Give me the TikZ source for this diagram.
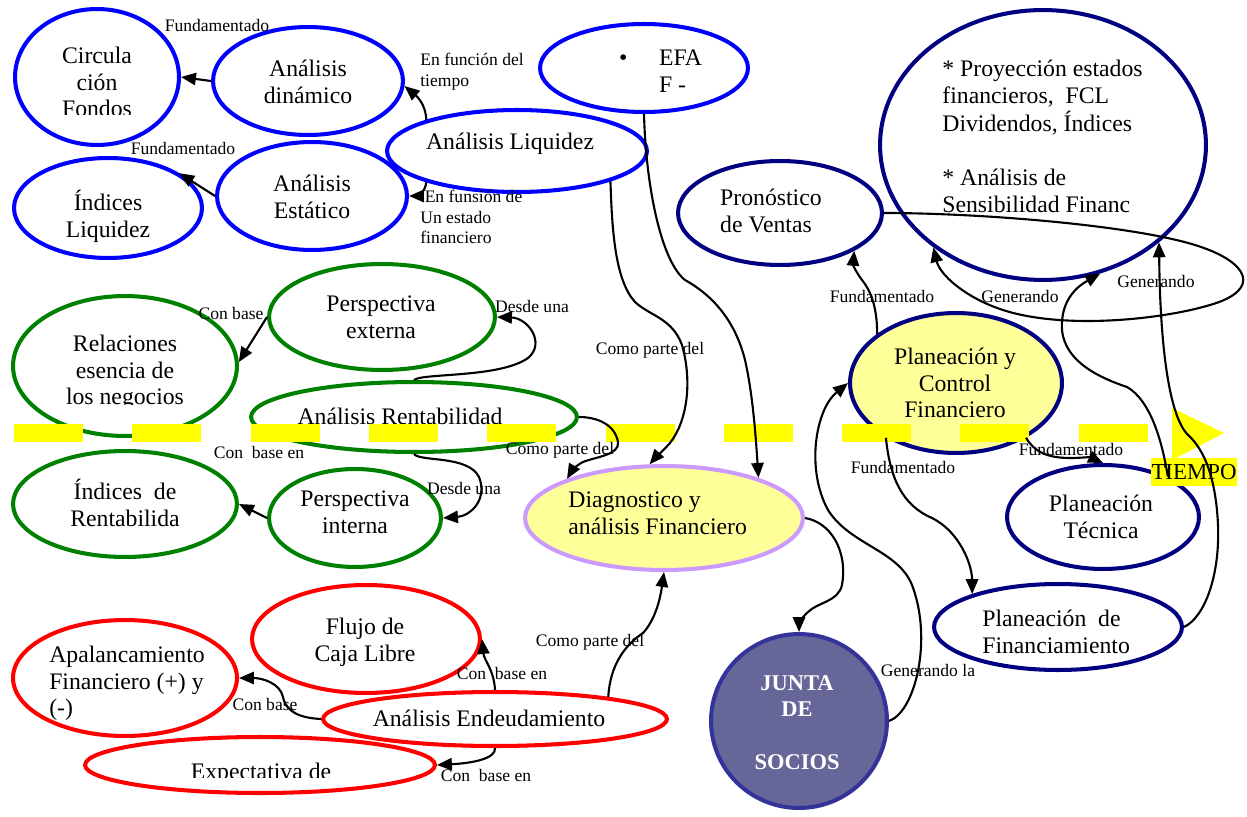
\documentclass[tikz,border=0pt]{standalone}
\usepackage{fontspec}
\setmainfont{Liberation Serif}
\usetikzlibrary{shapes.geometric,arrows.meta}
\definecolor{cblue}{RGB}{0,0,255}
\definecolor{cnavy}{RGB}{0,0,128}
\definecolor{cgreen}{RGB}{0,128,0}
\definecolor{cred}{RGB}{255,0,0}
\definecolor{cpale}{RGB}{255,255,153}
\definecolor{clav}{RGB}{204,153,255}
\definecolor{cjunta}{RGB}{102,102,153}
\definecolor{cjuntab}{RGB}{51,51,153}
\definecolor{cyel}{RGB}{255,255,0}
\newdimen\pxu \pxu=0.5669pt
\newcommand{\TxC}[3]{\makebox[0pt][c]{\hspace*{\dimexpr #1\pxu*2\relax}\smash{\raisebox{\dimexpr -5.7pt-(#2\pxu)\relax}{\begin{tabular}{@{}c@{}}#3\end{tabular}}}}}
\newcommand{\TxL}[4]{\makebox[0pt][l]{\hspace*{\dimexpr #1\pxu\relax}\smash{\raisebox{\dimexpr -5.7pt-(#2\pxu)\relax}{\begin{tabular}{#3}#4\end{tabular}}}}}
\begin{document}
\begin{tikzpicture}[x=0.02cm,y=-0.02cm,
  ell/.style 2 args={shape=ellipse, minimum width=#1*0.04cm, minimum height=#2*0.04cm, inner sep=0pt, line width=2.3pt, fill=white},
  nt/.style={font=\fontsize{13.5}{15.3}\selectfont},
  bl/.style={draw=cblue}, nv/.style={draw=cnavy}, gr/.style={draw=cgreen}, rd/.style={draw=cred},
  arr/.style={line width=1.2pt, -{Triangle[length=8.5pt,width=7pt]}},
  lab/.style={font=\fontsize{10}{12}\selectfont, inner sep=0pt, text height=7pt, text depth=2pt},
  labm/.style={font=\fontsize{10}{11.8}\selectfont, inner sep=0pt, align=left, anchor=west},
  tn/.style={inner sep=0pt, font=\fontsize{13.5}{15.3}\selectfont}
]
\useasboundingbox (0,0) rectangle (1247,817);

% ---------- concept nodes ----------
\node[ell={82}{68}, bl] (circ) at (97,77) {};
\node[ell={95}{54}, bl, nt] (din) at (308,81) {\TxC{0}{0}{Análisis\\dinámico}};
\node[ell={94}{50}, bl, nt] (ili) at (108,208) {\TxC{0}{6}{Índices\\Liquidez}};
\node[ell={95}{54}, bl, nt] (est) at (312,196) {\TxC{0}{0}{Análisis\\Estático}};
\node[ell={130}{41}, bl, nt] (liq) at (517,151) {\TxC{-7}{-11}{Análisis Liquidez}};
\node[ell={104}{44}, bl, nt] (efa) at (644,68) {\TxL{-25}{2}{@{}l@{\hspace{18pt}}l@{}}{\textbullet & EFA\\ & F -}};
\node[ell={163}{135}, nv, nt] (big) at (1043,145) {\TxL{-101}{-10}{@{}l@{}}{{*} Proyección estados\\financieros,\ \ FCL\\Dividendos, Índices\\ \\{*} Análisis de\\Sensibilidad Financ}};
\node[ell={102}{52}, nv, nt] (pro) at (780,213) {\TxL{-60}{-3}{@{}l@{}}{Pronóstico\\de Ventas}};
\node[ell={113}{53}, gr, nt] (pext) at (382,317) {\TxC{-1}{-1}{Perspectiva\\externa}};
\node[ell={112}{70}, gr] (rel) at (125,366) {};
\node[ell={163}{35}, gr, nt] (rent) at (414,417) {\TxC{-14}{-2}{Análisis Rentabilidad}};
\node[ell={112}{53}, gr, nt] (irent) at (125,504) {\TxC{0}{-1}{Índices\ \ de\\Rentabilida}};
\node[ell={86}{49}, gr, nt] (pint) at (355,518) {\TxC{0}{-7}{Perspectiva\\interna}};
\node[ell={139}{52}, draw=clav, fill=cpale, nt] (diag) at (664,518) {\TxL{-96}{-6}{@{}l@{}}{Diagnostico y\\análisis Financiero}};
\node[ell={106}{70}, nv, fill=cpale, nt] (pyc) at (956,383) {\TxC{-1}{-1}{Planeación y\\Control\\Financiero}};
\node[ell={96}{52}, nv, nt] (ptec) at (1103,517) {\TxC{-2}{-1}{Planeación\\Técnica}};
\node[ell={124}{43}, nv, nt] (pfin) at (1058,627) {\TxL{-76}{4}{@{}l@{}}{Planeación\ \ de\\Financiamiento}};
\node[ell={88}{87}, draw=cjuntab, fill=cjunta, text=white, font=\fontsize{12.8}{14.9}\selectfont\bfseries] (junta) at (799,721) {\TxC{-2}{-1}{JUNTA\\DE\\ \\SOCIOS}};
\node[ell={114}{54}, rd, nt] (flujo) at (366,639) {\TxC{-1}{0}{Flujo de\\Caja Libre}};
\node[ell={112}{58}, rd, nt] (apal) at (125,678) {\TxL{-76}{2}{@{}l@{}}{Apalancamiento\\Financiero (+) y\\(-)}};
\node[ell={172}{27}, rd, nt] (endeu) at (495,719) {\TxC{-6}{-2}{Análisis Endeudamiento}};
\node[ell={175}{28}, rd] (expec) at (260,765) {};

% clipped texts
\begin{scope}
  \clip (0,0) rectangle (400,115);
  \node[tn] (circT) at (circ.center) {\TxC{0}{4}{Circula\\ción\\Fondos}};
\end{scope}
\begin{scope}
  \clip (0,250) rectangle (260,404);
  \node[tn] (relT) at (rel.center) {\TxC{0}{3}{Relaciones\\esencia de\\los negocios}};
\end{scope}
\begin{scope}
  \clip (0,700) rectangle (600,777);
  \node[tn] (expecT) at (expec.center) {\TxC{1}{5}{Expectativa de}};
\end{scope}

% ---------- time line ----------
\foreach \k in {0,...,9} {
  \fill[cyel] ({14+118.3*\k},424) rectangle ++(69,18);
}
\fill[cyel] (1172,408) -- (1224,433) -- (1172,460) -- cycle;
\node[fill=cyel, inner sep=0pt, minimum width=1.72cm, minimum height=0.56cm, font=\fontsize{13}{15}\selectfont] (tiempo) at (1194,472) {TIEMPO};

% ---------- connectors ----------
\draw[arr] (din.west) -- (circ.east);
\draw[arr] (est.west) -- (ili.26);
\draw[arr] (liq.161) to[out=92,in=-40] (din.-3);
\draw[arr] (liq.199) to[out=-95,in=0] (est.east);
\draw[arr] (efa.south) .. controls (646,190) and (662,262) .. (685,280) .. controls (712,295) and (735,320) .. (745,360) .. controls (753,395) and (756,440) .. (diag.23);
\draw[arr] (liq.-18) .. controls (612,230) and (615,280) .. (635,302) .. controls (650,316) and (672,318) .. (682,345) .. controls (692,380) and (688,420) .. (670,443) .. controls (662,452) and (655,458) .. (diag.105);
\draw[arr] (rent.east) .. controls (598,417) and (615,425) .. (618,442) .. controls (620,455) and (595,457) .. (583,462) .. controls (575,466) and (571,472) .. (diag.158);
\draw[arr] (rent.north) .. controls (422,373) and (500,378) .. (528,358) .. controls (546,343) and (528,318) .. (pext.east);
\draw[arr] (rent.south) .. controls (420,462) and (468,455) .. (479,477) .. controls (488,500) and (470,516) .. (pint.east);
\draw[arr] (pext.west) -- (rel.2);
\draw[arr] (pint.west) -- (irent.east);
\draw[arr] (endeu.north) .. controls (494,670) and (484,660) .. (flujo.east);
\draw[arr] (endeu.west) .. controls (300,718) and (286,712) .. (283,697) .. controls (280,683) and (262,678) .. (apal.east);
\draw[arr] (endeu.south) .. controls (496,758) and (475,763) .. (expec.east);
\draw[arr] (endeu.11) .. controls (610,665) and (625,645) .. (643,633) .. controls (655,620) and (660,600) .. (diag.south);
\draw[arr] (diag.east) .. controls (830,522) and (848,550) .. (842,585) .. controls (838,602) and (818,602) .. (808,612) .. controls (801,618) and (799,625) .. (junta.north);
\draw[arr] (junta.east) .. controls (915,712) and (933,640) .. (912,585) .. controls (898,550) and (850,545) .. (828,510) .. controls (806,470) and (815,410) .. (pyc.west);
\draw[arr] (pyc.218) .. controls (890,478) and (902,505) .. (932,518) .. controls (960,532) and (972,565) .. (pfin.159);
\draw[arr] (pyc.-38) .. controls (1034,452) and (1048,458) .. (1070,458) .. controls (1080,458) and (1090,457) .. (ptec.north);
\draw[arr] (pyc.148) .. controls (877,305) and (870,290) .. (862,280) .. controls (856,272) and (853,265) .. (pro.-27);
\draw[arr] (pro.east) .. controls (980,213) and (1130,225) .. (1195,245) .. controls (1250,262) and (1262,290) .. (1210,305) .. controls (1160,320) and (1060,330) .. (1000,309) .. controls (965,297) and (940,275) .. (big.223);
\draw[arr] (ptec.32) .. controls (1162,440) and (1150,400) .. (1127,387) .. controls (1100,378) and (1065,362) .. (1062,330) .. controls (1060,298) and (1080,285) .. (big.-66);
\draw[arr] (pfin.east) .. controls (1205,617) and (1220,575) .. (1218,525) .. controls (1216,480) and (1205,450) .. (1188,435) .. controls (1168,415) and (1160,340) .. (big.-40);

% ---------- connector labels ----------
\node[lab] (l1) at (217,27) {Fundamentado};
\node[lab] (l2) at (183,150) {Fundamentado};
\node[labm] (l3) at (420,72) {En función del\\tiempo};
\node[labm] (l4) at (420,217) {\hspace*{2.5pt}En funsión de\\Un estado\\financiero};
\node[lab] (l5) at (231,315) {Con base};
\node[lab] (l6) at (532,308) {Desde una};
\node[lab] (l7) at (650,350) {Como parte del};
\node[lab] (l8) at (259,454) {Con\ \ base en};
\node[lab] (l9) at (560,450) {Como parte del};
\node[lab] (l10) at (464,490) {Desde una};
\node[lab] (l11) at (590,642) {Como parte del};
\node[lab] (l12) at (502,675) {Con\ \ base en};
\node[lab] (l13) at (265,706) {Con base};
\node[lab] (l14) at (486,777) {Con\ \ base en};
\node[lab] (l15) at (882,298) {Fundamentado};
\node[lab] (l16) at (1020,298) {Generando};
\node[lab] (l17) at (1156,283) {Generando};
\node[lab] (l18) at (1071,451) {Fundamentado};
\node[lab] (l19) at (903,469) {Fundamentado};
\node[lab] (l20) at (928,672) {Generando la};
\end{tikzpicture}
\end{document}
